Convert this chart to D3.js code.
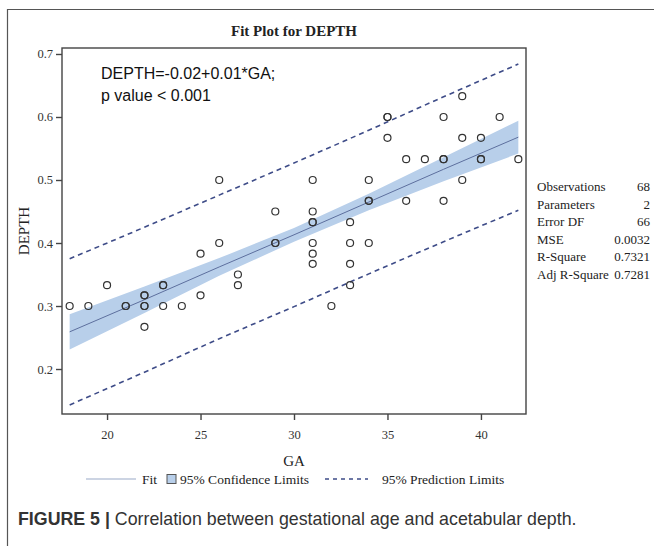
<!DOCTYPE html>
<html>
<head>
<meta charset="utf-8">
<script src="https://cdn.jsdelivr.net/npm/d3@7"></script>
<style>
  html, body { margin: 0; padding: 0; background: #fff; }
  svg { display: block; }
</style>
</head>
<body>
<div id="chart"></div>
<script>
// Observed points (GA, DEPTH). Overlapping points are listed twice.
var gaValues = [18, 19, 20, 21, 21, 22, 22, 22, 22, 22, 23, 23, 23, 24, 25, 25,
  26, 26, 27, 27, 29, 29, 29, 31, 31, 31, 31, 31, 31, 31, 32, 33, 33, 33, 33,
  34, 34, 34, 34, 35, 35, 35, 36, 36, 37, 38, 38, 38, 38, 39, 39, 39, 40, 40, 40, 41, 42];
var depthValues = [0.300, 0.300, 0.333, 0.300, 0.300, 0.317, 0.317, 0.300, 0.300, 0.267,
  0.333, 0.333, 0.300, 0.300, 0.383, 0.317,
  0.500, 0.400, 0.350, 0.333, 0.450, 0.400, 0.400, 0.500, 0.450, 0.433, 0.433, 0.400, 0.383,
  0.367, 0.300, 0.433, 0.400, 0.367, 0.333,
  0.500, 0.467, 0.467, 0.400, 0.600, 0.600, 0.567, 0.533, 0.467, 0.533, 0.600, 0.533, 0.533,
  0.467, 0.633, 0.567, 0.500, 0.567, 0.533, 0.533, 0.600, 0.533];

// Fit line and limits at a few GA values.
var bandGA = [18, 22, 26, 30, 34, 38, 42];
var fitValues = [0.259, 0.310, 0.362, 0.413, 0.465, 0.517, 0.568];
var clLower = [0.231, 0.289, 0.348, 0.402, 0.452, 0.498, 0.542];
var clUpper = [0.287, 0.331, 0.376, 0.424, 0.478, 0.536, 0.594];
var plLower = [0.143, 0.195, 0.248, 0.299, 0.351, 0.402, 0.452];
var plUpper = [0.375, 0.425, 0.476, 0.527, 0.579, 0.632, 0.684];

var xTicks = [20, 25, 30, 35, 40];
var yTicks = [0.2, 0.3, 0.4, 0.5, 0.6, 0.7];

var statLabels = ['Observations', 'Parameters', 'Error DF', 'MSE', 'R-Square', 'Adj R-Square'];
var statValues = ['68', '2', '66', '0.0032', '0.7321', '0.7281'];

var legendLabels = ['Fit', '95% Confidence Limits', '95% Prediction Limits'];

var width = 654;
var height = 546;
var plot = { left: 62, right: 526, top: 48, bottom: 414 };
var serif = '"Liberation Serif", "Times New Roman", serif';
var sans = '"Liberation Sans", Arial, sans-serif';

var bandColor = '#b8cfea';
var fitColor = '#5d6f9e';
var dashColor = '#3e4c88';
var axisColor = '#444';

var svg = d3.select('#chart')
  .append('svg')
  .attr('width', width)
  .attr('height', height);

// Outer figure frame (top and left edges only are visible).
svg.append('path')
  .attr('d', 'M7.5,' + height + 'V9.5H' + width)
  .attr('fill', 'none')
  .attr('stroke', '#555')
  .attr('stroke-width', 1.2);

var x = d3.scaleLinear().domain([17.59, 42.41]).range([plot.left, plot.right]);
var y = d3.scaleLinear().domain([0.1286, 0.7095]).range([plot.bottom, plot.top]);

var bandData = bandGA.map(function(ga, i) {
  return { ga: ga, fit: fitValues[i], clLo: clLower[i], clHi: clUpper[i], plLo: plLower[i], plHi: plUpper[i] };
});

// Confidence band
svg.append('path')
  .datum(bandData)
  .attr('fill', bandColor)
  .attr('d', d3.area()
    .x(function(d) { return x(d.ga); })
    .y0(function(d) { return y(d.clLo); })
    .y1(function(d) { return y(d.clHi); }));

// Fit line
svg.append('path')
  .datum(bandData)
  .attr('fill', 'none')
  .attr('stroke', fitColor)
  .attr('stroke-width', 1)
  .attr('d', d3.line()
    .x(function(d) { return x(d.ga); })
    .y(function(d) { return y(d.fit); }));

// Prediction limits
['plLo', 'plHi'].forEach(function(key) {
  svg.append('path')
    .datum(bandData)
    .attr('fill', 'none')
    .attr('stroke', dashColor)
    .attr('stroke-width', 1.6)
    .attr('stroke-dasharray', '5,4')
    .attr('d', d3.line()
      .curve(d3.curveMonotoneX)
      .x(function(d) { return x(d.ga); })
      .y(function(d) { return y(d[key]); }));
});

// Observations
svg.append('g')
  .selectAll('circle')
  .data(gaValues)
  .enter()
  .append('circle')
  .attr('cx', function(d) { return x(d); })
  .attr('cy', function(d, i) { return y(depthValues[i]); })
  .attr('r', 3.5)
  .attr('fill', 'none')
  .attr('stroke', '#333')
  .attr('stroke-width', 1.2);

// Plot frame
svg.append('rect')
  .attr('x', plot.left)
  .attr('y', plot.top)
  .attr('width', plot.right - plot.left)
  .attr('height', plot.bottom - plot.top)
  .attr('fill', 'none')
  .attr('stroke', axisColor)
  .attr('stroke-width', 1.4);

// Axes
var xAxis = svg.append('g')
  .attr('transform', 'translate(0,' + plot.bottom + ')')
  .call(d3.axisBottom(x).tickValues(xTicks).tickSize(6).tickPadding(10));

var yAxis = svg.append('g')
  .attr('transform', 'translate(' + plot.left + ',0)')
  .call(d3.axisLeft(y).tickValues(yTicks).tickSize(6).tickPadding(3).tickFormat(d3.format('.1f')));

[xAxis, yAxis].forEach(function(axis) {
  axis.select('.domain').remove();
  axis.selectAll('line').attr('stroke', axisColor).attr('stroke-width', 1.4);
  axis.selectAll('text')
    .attr('fill', '#333')
    .style('font-family', serif)
    .style('font-size', '12.5px');
});

// Title and axis labels
svg.append('text')
  .attr('x', (plot.left + plot.right) / 2)
  .attr('y', 36)
  .attr('text-anchor', 'middle')
  .style('font-family', serif)
  .style('font-weight', 'bold')
  .style('font-size', '15px')
  .attr('fill', '#222')
  .text('Fit Plot for DEPTH');

svg.append('text')
  .attr('x', (plot.left + plot.right) / 2)
  .attr('y', 466)
  .attr('text-anchor', 'middle')
  .style('font-family', serif)
  .style('font-size', '15px')
  .attr('fill', '#222')
  .text('GA');

svg.append('text')
  .attr('transform', 'translate(29,' + (plot.top + plot.bottom) / 2 + ') rotate(-90)')
  .attr('text-anchor', 'middle')
  .style('font-family', serif)
  .style('font-size', '15px')
  .attr('fill', '#222')
  .text('DEPTH');

// Equation annotation
svg.append('text')
  .attr('x', 101)
  .attr('y', 79)
  .style('font-family', sans)
  .style('font-size', '16px')
  .attr('fill', '#111')
  .text('DEPTH=-0.02+0.01*GA;');

svg.append('text')
  .attr('x', 101)
  .attr('y', 101)
  .style('font-family', sans)
  .style('font-size', '16px')
  .attr('fill', '#111')
  .text('p value < 0.001');

// Statistics table
var stats = svg.append('g')
  .style('font-family', serif)
  .style('font-size', '13px')
  .attr('fill', '#222');

stats.selectAll('.stat-label')
  .data(statLabels)
  .enter()
  .append('text')
  .classed('stat-label', true)
  .attr('x', 537)
  .attr('y', function(d, i) { return 191 + i * 17.6; })
  .text(function(d) { return d; });

stats.selectAll('.stat-value')
  .data(statValues)
  .enter()
  .append('text')
  .classed('stat-value', true)
  .attr('x', 650)
  .attr('y', function(d, i) { return 191 + i * 17.6; })
  .attr('text-anchor', 'end')
  .text(function(d) { return d; });

// Legend
var legend = svg.append('g')
  .style('font-family', serif)
  .style('font-size', '13.5px')
  .attr('fill', '#222');
var ly = 479;

legend.append('line')
  .attr('x1', 86).attr('x2', 136).attr('y1', ly).attr('y2', ly)
  .attr('stroke', '#9aa9c8').attr('stroke-width', 1.2);
legend.append('text').attr('x', 142).attr('y', ly + 4.5).text(legendLabels[0]);

legend.append('rect')
  .attr('x', 167).attr('y', ly - 4.5).attr('width', 9).attr('height', 9)
  .attr('fill', bandColor).attr('stroke', '#555').attr('stroke-width', 1);
legend.append('text').attr('x', 180).attr('y', ly + 4.5).text(legendLabels[1]);

legend.append('line')
  .attr('x1', 325).attr('x2', 368).attr('y1', ly).attr('y2', ly)
  .attr('stroke', dashColor).attr('stroke-width', 1.4).attr('stroke-dasharray', '4,4');
legend.append('text').attr('x', 382).attr('y', ly + 4.5).text(legendLabels[2]);

// Caption
var caption = svg.append('text')
  .attr('x', 18)
  .attr('y', 525)
  .style('font-family', sans)
  .style('font-size', '17.8px')
  .attr('fill', '#333');
caption.append('tspan').style('font-weight', 'bold').text('FIGURE 5 | ');
caption.append('tspan').text('Correlation between gestational age and acetabular depth.');
</script>
</body>
</html>
